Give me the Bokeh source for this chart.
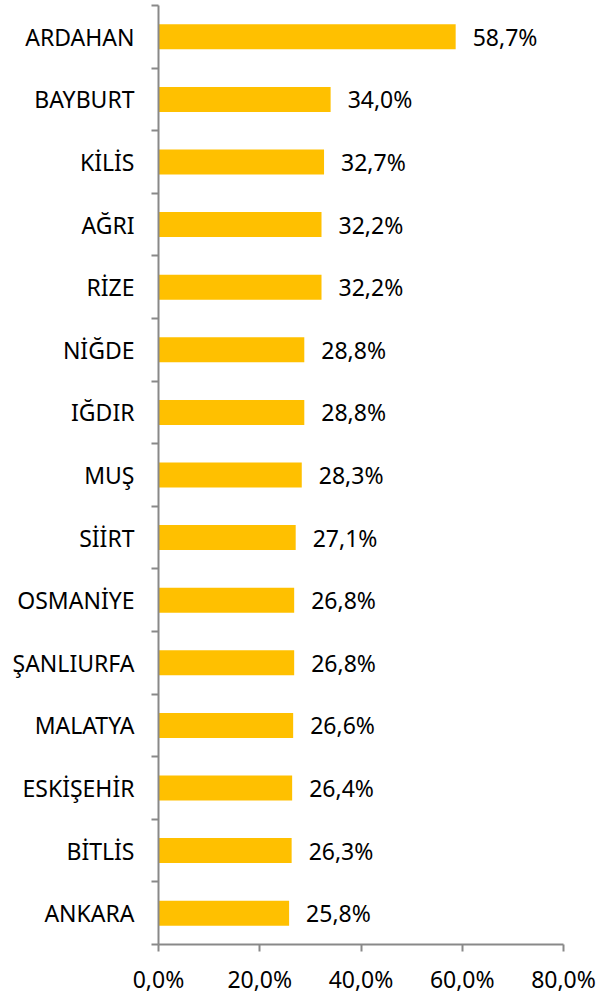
from bokeh.plotting import figure
from bokeh.models import ColumnDataSource, FixedTicker
from bokeh.core.properties import value
from bokeh.embed import file_html
from bokeh.resources import INLINE

provinces = ["ARDAHAN", "BAYBURT", "KİLİS", "AĞRI", "RİZE", "NİĞDE", "IĞDIR", "MUŞ",
             "SİİRT", "OSMANİYE", "ŞANLIURFA", "MALATYA", "ESKİŞEHİR", "BİTLİS", "ANKARA"]
shares = [58.7, 34.0, 32.7, 32.2, 32.2, 28.8, 28.8, 28.3, 27.1, 26.8, 26.8, 26.6, 26.4, 26.3, 25.8]
x_ticks = [0, 20, 40, 60, 80]

n = len(provinces)
ypos = [n - i - 0.5 for i in range(n)]
labels = [f"{v:.1f}%".replace(".", ",") for v in shares]

src = ColumnDataSource(dict(y=ypos, v=shares, lab=labels, name=provinces))

FONT = "Noto Sans"
FS = "23px"
AXIS_COLOR = "#898989"

p = figure(width=600, height=997, x_range=(0, 80), y_range=(0, n),
           output_backend="svg", toolbar_location=None,
           min_border_left=158, min_border_right=37, min_border_top=5, min_border_bottom=48)
p.outline_line_color = None
p.grid.visible = False

p.hbar(y="y", right="v", left=0, height=0.4, source=src, color="#FFC000", line_color=None)
p.text(x="v", y="y", text="lab", source=src, x_offset=17, text_baseline="middle",
       text_align="left", text_font=value(FONT), text_font_size=FS, text_color="#000000")

# y axis
p.yaxis.ticker = FixedTicker(ticks=ypos, minor_ticks=list(range(0, n + 1)))
p.yaxis.major_label_overrides = {y: name for y, name in zip(ypos, provinces)}
p.yaxis.major_tick_line_color = None
p.yaxis.major_tick_out = 0
p.yaxis.major_tick_in = 0
p.yaxis.minor_tick_line_color = AXIS_COLOR
p.yaxis.minor_tick_line_width = 2
p.yaxis.minor_tick_out = 7
p.yaxis.minor_tick_in = 0
p.yaxis.major_label_standoff = 17
p.yaxis.axis_line_color = AXIS_COLOR
p.yaxis.axis_line_width = 2
p.yaxis.major_label_text_font = FONT
p.yaxis.major_label_text_font_size = FS
p.yaxis.major_label_text_color = "#000000"

# x axis
p.xaxis.ticker = FixedTicker(ticks=x_ticks)
p.xaxis.major_label_overrides = {t: f"{t:.1f}%".replace(".", ",") for t in x_ticks}
p.xaxis.minor_tick_line_color = None
p.xaxis.major_tick_line_color = AXIS_COLOR
p.xaxis.major_tick_line_width = 2
p.xaxis.major_tick_out = 7
p.xaxis.major_tick_in = 0
p.xaxis.major_label_standoff = 11
p.xaxis.axis_line_color = AXIS_COLOR
p.xaxis.axis_line_width = 2
p.xaxis.major_label_text_font = FONT
p.xaxis.major_label_text_font_size = FS
p.xaxis.major_label_text_color = "#000000"

open("out.html", "w").write(file_html(p, INLINE))
